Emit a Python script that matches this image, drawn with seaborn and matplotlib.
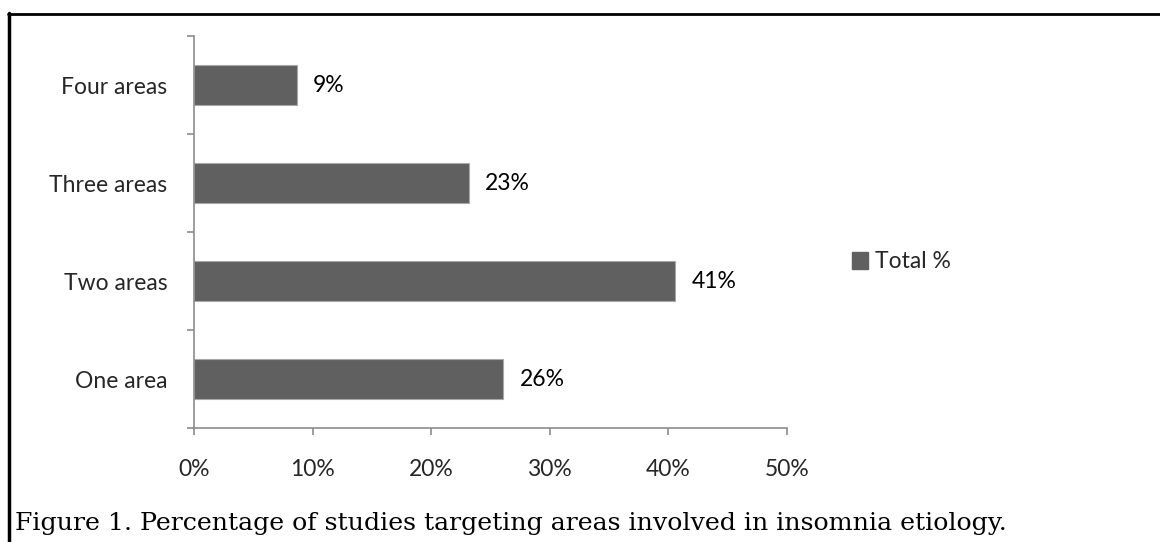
import matplotlib
matplotlib.use("Agg")
import matplotlib.pyplot as plt
from matplotlib.lines import Line2D
from matplotlib.patches import Patch
import seaborn as sns
import pandas as pd

# Share of studies by number of etiology areas targeted
categories = ["Four areas", "Three areas", "Two areas", "One area"]
values = [8.7, 23.2, 40.6, 26.1]
value_labels = ["9%", "23%", "41%", "26%"]
series_name = "Total %"
x_ticks = [0, 10, 20, 30, 40, 50]
x_tick_labels = ["0%", "10%", "20%", "30%", "40%", "50%"]
caption = "Figure 1. Percentage of studies targeting areas involved in insomnia etiology."

df = pd.DataFrame({"area": categories, "pct": values})

sns.set_theme(style="white")
plt.rcParams["font.family"] = ["Lato", "DejaVu Sans"]

bar_color = "#606060"
axis_color = "#8c8c8c"
fs = 16.5

fig = plt.figure(figsize=(11.6, 5.42), dpi=100)
ax = fig.add_axes([0.1672, 0.2103, 0.5112, 0.7232])

sns.barplot(data=df, x="pct", y="area", order=categories, orient="h",
            color=bar_color, width=0.4, edgecolor="#a8a8a8", linewidth=0.8,
            saturation=1, ax=ax)

ax.set_xlim(0, 50)
ax.set_ylim(len(categories) - 0.5, -0.5)

# value labels to the right of each bar
for i, (v, lab) in enumerate(zip(values, value_labels)):
    ax.annotate(lab, xy=(v, i), xytext=(11.5, 0), textcoords="offset points",
                ha="left", va="center", fontsize=fs, color="black")

# x axis
ax.set_xticks(x_ticks)
ax.set_xticklabels(x_tick_labels, fontsize=fs)
ax.tick_params(axis="x", direction="out", length=5, width=1.2, color=axis_color,
               pad=17, bottom=True)

# y axis: ticks at category boundaries, labels at centers
bounds = [i - 0.5 for i in range(len(categories) + 1)]
ax.set_yticks(bounds)
ax.set_yticklabels([""] * len(bounds))
ax.tick_params(axis="y", which="major", direction="out", length=5, width=1.2,
               color=axis_color, left=True)
ax.set_yticks(range(len(categories)), minor=True)
ax.set_yticklabels(categories, minor=True, fontsize=fs)
ax.tick_params(axis="y", which="minor", length=0, pad=19)

ax.set_xlabel("")
ax.set_ylabel("")
for side in ["top", "right"]:
    ax.spines[side].set_visible(False)
for side in ["left", "bottom"]:
    ax.spines[side].set_color(axis_color)
    ax.spines[side].set_linewidth(1.2)

# legend
handle = Patch(facecolor=bar_color, edgecolor=bar_color)
fig.legend([handle], [series_name], loc="center left",
           bbox_to_anchor=(852 / 1160, 1 - 262 / 542), frameon=False,
           fontsize=fs, handlelength=0.7, handleheight=0.7, handletextpad=0.3,
           borderpad=0, borderaxespad=0)

# frame lines along the top and left edges
fig.add_artist(Line2D([9 / 1160, 9 / 1160], [0, 1 - 13 / 542],
                      transform=fig.transFigure, color="black", linewidth=2.5))
fig.add_artist(Line2D([8 / 1160, 1], [1 - 14 / 542, 1 - 14 / 542],
                      transform=fig.transFigure, color="black", linewidth=2))

fig.text(15 / 1160, 1 - 530 / 542, caption, fontsize=18.2,
         family=["DejaVu Serif"], ha="left", va="baseline", color="black")

fig.savefig("out.png", dpi=100)
